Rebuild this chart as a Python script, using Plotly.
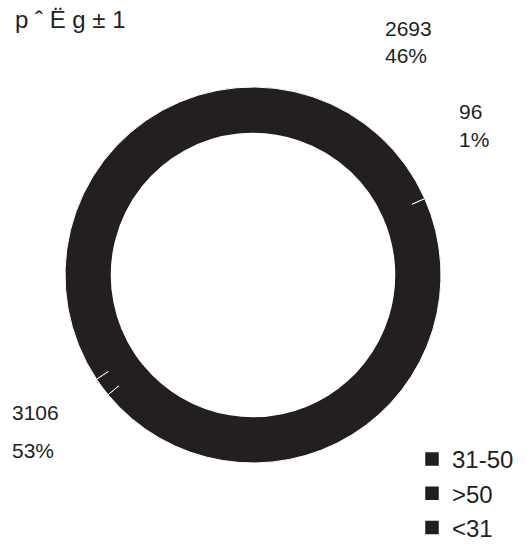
import plotly.graph_objects as go

# ---- data ----
categories = ["31-50", ">50", "<31"]
counts = [2693, 96, 3106]
pct_labels = ["46%", "1%", "53%"]
title_text = "p ˆ Ë g ± 1"

INK = "#231f20"
FONT = "Liberation Sans, Arial, sans-serif"
W, H = 527, 546
SIDE = 376
CX, CY = 253, 275
L, T = CX - SIDE // 2, CY - SIDE // 2
R, B = W - L - SIDE, H - T - SIDE
PW, PH = SIDE, SIDE


def px(x):
    return (x - L) / PW


def py(y):
    return (H - B - y) / PH


fig = go.Figure()

# main donut with white slice separators
fig.add_trace(go.Pie(
    labels=categories, values=counts, sort=False, direction="clockwise",
    rotation=66, hole=0.76,
    marker=dict(colors=[INK] * 3, line=dict(color="white", width=1)),
    textinfo="none", hoverinfo="skip", showlegend=False,
    domain=dict(x=[0, 1], y=[0, 1]),
))

# inner cover band so separators only show near the outer edge (legend source)
inner_r = 173 / 188
lo = (1 - inner_r) / 2
fig.add_trace(go.Pie(
    labels=categories, values=counts, sort=False, direction="clockwise",
    rotation=66, hole=143 / 173,
    marker=dict(colors=[INK] * 3, line=dict(color=INK, width=1.5)),
    textinfo="none", hoverinfo="skip", showlegend=True,
    domain=dict(x=[lo, 1 - lo], y=[lo, 1 - lo]),
))

# value / percent labels
num_pos = [(384, 28), (458, 111), (11, 412)]
pct_pos = [(384, 55), (458, 139), (11, 450)]
for i in [0, 1, 2]:
    for txt, (x, y) in ((str(counts[i]), num_pos[i]), (pct_labels[i], pct_pos[i])):
        fig.add_annotation(
            x=px(x), y=py(y), xref="paper", yref="paper",
            text=txt, showarrow=False, xanchor="left", yanchor="middle",
            borderpad=0, font=dict(family=FONT, size=21, color=INK),
        )

fig.update_layout(
    width=W, height=H,
    margin=dict(l=L, r=R, t=T, b=B, autoexpand=False),
    paper_bgcolor="white", plot_bgcolor="white",
    title=dict(text=title_text, x=15 / W, xanchor="left", xref="container",
               y=1 - 20 / H, yanchor="middle", yref="container",
               font=dict(family=FONT, size=24, color=INK)),
    legend=dict(x=412 / W, y=1 - 437 / H, xanchor="left", yanchor="top",
                xref="container", yref="container",
                font=dict(family=FONT, size=24, color=INK),
                bgcolor="rgba(0,0,0,0)", traceorder="normal"),
    font=dict(family=FONT, color=INK),
)

fig.write_html("out.html")
